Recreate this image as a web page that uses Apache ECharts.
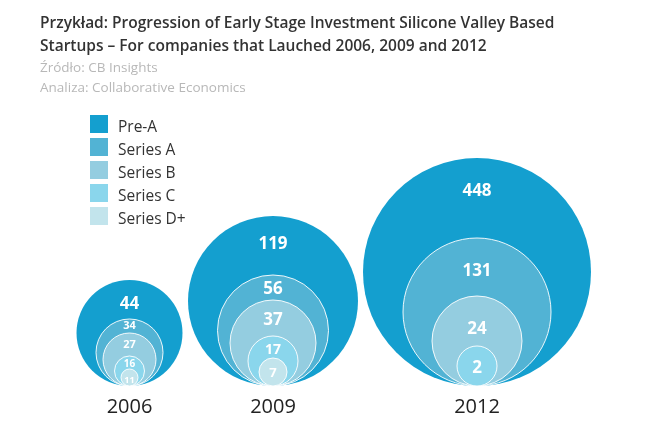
<!DOCTYPE html>
<html>
<head>
<meta charset="utf-8">
<script src="https://cdn.jsdelivr.net/npm/echarts@6/dist/echarts.min.js"></script>
<style>
html,body{margin:0;padding:0;background:#fff;}
#chart{width:649px;height:434px;}
</style>
</head>
<body>
<div id="chart"></div>
<script>
// ---- data ----
const years = ['2006', '2009', '2012'];
const stages = ['Pre-A', 'Series A', 'Series B', 'Series C', 'Series D+'];
const preA = [44, 119, 448];
const seriesA = [34, 56, 131];
const seriesB = [27, 37, 24];
const seriesC = [16, 17, 2];
const seriesD = [11, 7, null];
const values = [preA, seriesA, seriesB, seriesC, seriesD];

// ---- style ----
const colors = ['#149fcf', '#52b3d4', '#94cde0', '#8ad6ec', '#c2e4ec'];
// bubble diameters per stage per year (infographic sizing, not area-proportional)
const diameters = [
  [106, 170, 228],
  [67, 111, 148],
  [53, 86, 90],
  [30, 50, 40],
  [17, 28, 0]
];
// label centre distance from the top of its bubble
const labelOffsets = [
  [24, 28, 33],
  [7, 15, 34],
  [12, 21, 34],
  [9, 15, 23],
  [12, 16, 0]
];
const labelSizes = [
  [17, 17, 17],
  [11, 17, 17],
  [11, 17, 17],
  [10, 14, 17],
  [9, 13, 17]
];
const gridBoxes = [
  { left: 77, width: 105 },
  { left: 187, width: 172 },
  { left: 363, width: 228 }
];
const FONT = "'Open Sans', 'Noto Sans', sans-serif";
// legend swatch: 18x18 square sitting at the top of a 18x26 icon box
const LEGEND_ICON = 'path://M0,0H18V18H0Z M0,25.9H0.01V26H0Z';

const grids = gridBoxes.map(b => ({ left: b.left, width: b.width, top: 150, bottom: 48 }));
const xAxes = years.map((y, i) => ({
  type: 'category', gridIndex: i, data: [y],
  axisLine: { show: false }, axisTick: { show: false }, splitLine: { show: false },
  axisLabel: { fontSize: 20, color: '#222', margin: 11, fontFamily: FONT }
}));
const yAxes = years.map((y, i) => ({
  type: 'value', gridIndex: i, min: 0, max: 1, show: false
}));

const series = [];
stages.forEach((name, s) => {
  years.forEach((yr, g) => {
    const v = values[s][g];
    if (v == null) return;
    const d = diameters[s][g];
    series.push({
      type: 'scatter', name: name,
      xAxisIndex: g, yAxisIndex: g,
      symbol: 'circle',
      symbolOffset: [0, '-50%'],
      clip: false,
      silent: true,
      itemStyle: {
        color: colors[s], opacity: 1,
        borderColor: s === 0 ? 'transparent' : 'rgba(255,255,255,0.9)',
        borderWidth: s === 0 ? 0 : 1
      },
      label: {
        show: true,
        position: ['50%', labelOffsets[s][g]],
        align: 'center', verticalAlign: 'middle',
        color: '#fff', fontWeight: 'bold', fontFamily: FONT,
        fontSize: labelSizes[s][g],
        formatter: p => String(p.value[2])
      },
      data: [{ value: [yr, 0, v], symbolSize: d }]
    });
  });
});

const chart = echarts.init(document.getElementById('chart'));
chart.setOption({
  animation: false,
  backgroundColor: '#fff',
  title: [
    {
      text: 'Przykład: Progression of Early Stage Investment Silicone Valley Based\nStartups – For companies that Lauched 2006, 2009 and 2012',
      left: 40, top: 12, padding: 0,
      textStyle: { fontSize: 15.5, fontWeight: 600, color: '#333', lineHeight: 23, fontFamily: FONT }
    },
    {
      text: 'Źródło: CB Insights\nAnaliza: Collaborative Economics',
      left: 40, top: 58, padding: 0,
      textStyle: { fontSize: 13.5, fontWeight: 'normal', color: '#b8b8b8', lineHeight: 20, fontFamily: FONT }
    }
  ],
  legend: {
    data: stages,
    orient: 'vertical',
    left: 90, top: 115, padding: 0,
    icon: LEGEND_ICON, itemWidth: 18, itemHeight: 26, itemGap: -3,
    itemStyle: { borderWidth: 0 },
    textStyle: { fontSize: 15.5, color: '#333', fontFamily: FONT, lineHeight: 18, padding: [0, 0, 0, 5] }
  },
  grid: grids,
  xAxis: xAxes,
  yAxis: yAxes,
  series: series
});
</script>
</body>
</html>
